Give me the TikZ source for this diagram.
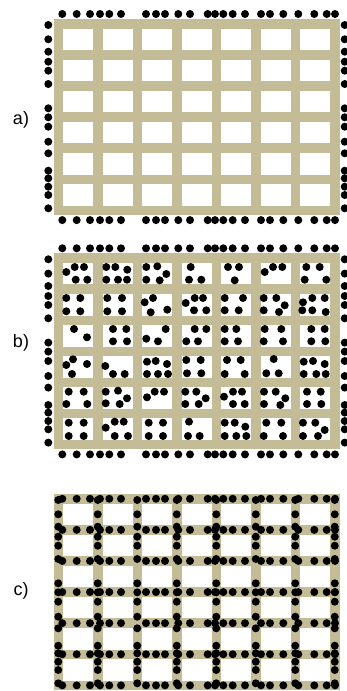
\documentclass[tikz,border=0pt]{standalone}
\usepackage{fontspec}
\setmainfont{Liberation Sans}
\definecolor{khaki}{RGB}{196,188,150}

\begin{document}
\begin{tikzpicture}[x=1pt, y=-1pt, every node/.style={font=\fontsize{18}{18}\selectfont},
	frame/.style={fill=khaki}, cell/.style={fill=white}, dot/.style={fill=black}]
	\useasboundingbox (0,0) rectangle (347,691);
	\clip (0,0) rectangle (347,691);
	% the three grids
	\foreach \t in {19,253.3,494} {
		\fill[frame] (53.5,\t) rectangle ++(286,196.1);
		\foreach \i in {0,...,6} \foreach \j in {0,...,5}
			\fill[cell] ({63+39.5*\i},{\t+9.5+31.1*\j}) rectangle ++(30,21.6);
	}
	% dots round the edge of a) and b)
	\foreach \t in {19,253.3} {
		\foreach \x in {62.3,76.7,90,100,109.3,121,146,156,165,178.3,190,207.7,215,223.3,232.7,245,261,270,283.3,298.3,314.3,326.7,335} {
			\fill[dot] (\x,\t-5) circle (4pt);
			\fill[dot] (\x,\t+201.1) circle (4pt);
		}
		\foreach \y in {6,20.3,32.7,42.7,51.7,65,89.3,98.3,107.7,122.7,134.3,151.7,159.3,167.7,176,189.3} {
			\fill[dot] (48.3,\t+\y) circle (4pt);
			\fill[dot] (344.7,\t+\y) circle (4pt);
		}
	}
	% dots in the cells of b)
	\foreach \x/\y in {66.3/272,74.7/267,84/267,75.7/279.7,87.3/279.7,
		106.3/267,115.3/267,127.3/269.7,106.3/279.7,118/279.7,127/279.7,
		146.3/267,157.3/266.3,166.3/274,146.3/279.7,159.7/280.3,
		190.7/267,189/279.7,201.3/279.7,
		228/267,239/267,234.7/280.3,
		264.7/272,273/267,282.3/267,
		306.3/267,319.7/267,304.7/279.7,326.3/279.7,
		66.3/298,80.3/298,66.3/311.3,80.3/311.3,
		107.3/298,122/298,107.3/311.3,122/311.3,
		144.7/302.3,153/298,150.7/312.3,167.3/309.7,
		185.7/303,194.7/298,203/298,194/310.3,206.3/310.3,
		224.7/298,243/298,224.7/310.3,238.7/310.3,
		263.7/298,276.3/298,284.7/305.3,263.7/310.3,279/312,
		303/302.3,312.3/298,324.7/298,302.3/310.3,312.3/310.3,325.7/312,
		74/329,87/337.3,
		113/329,126.3/329,113/341.3,127/341.3,
		165.7/329,146.3/338.7,158/341.3,
		194.7/329,206.3/329,186.3/341.3,198/341.3,
		224.7/329,236.3/329,224.7/341.3,238/341.3,
		264.7/329,281.3/329,263.7/341.3,283/341.3,
		311.3/329,324.7/329,311.3/341.3,325.3/341.3,
		66.3/365,73/359.3,87/364,72/374,
		105.3/366,113/374,124.7/374,
		147/361.7,155.7/361,167/364,147/374,158/374,168/374,
		186.3/360,200.7/360,187/373.3,201.3/373.3,
		227/360,240.7/360,224.7/374,244.7/374,
		273.7/359,266.3/373.3,278.7/373.3,
		303.7/361.7,313/361,324.7/364,303.7/374,316.3/374,325.7/374,
		68.7/391.7,83.7/391.7,66.3/404,87.3/404,
		105.7/391.7,118/390.7,127/398.3,105.7/403.3,119.7/404,
		147/397.3,154.7/391.7,164/391.7,
		185.3/391.7,196.3/391.7,205.7/398.3,185.3/404,198.7/404,
		224/396.7,233/391.7,242/391.7,233/404,244.7/404,
		264/391.7,275.7/391.7,285.3/398.3,264/404,280.3/405,
		307/391.7,320.7/391.7,307/404,321.3/404,
		68.7/422.7,83.7/422.7,68.7/436,83.7/436,
		105.7/427.7,114.7/421.7,123.7/421.7,114.7/436,128/436,
		148.7/422.7,163/422.7,148.7/436,163/436,
		189/421.7,188/436,199.7/436,
		224.7/422.7,234.7/422.7,245.3/426.7,224.7/436,236.3/436,246.3/436,
		266.3/422.7,281.3/422.7,263.7/436,283/436,
		303/422.7,315.3/422.7,324.7/430,303/436,318/436}
		\fill[dot] (\x,\y) circle (4pt);
	% dots on the lines of c)
	\foreach \j in {0,...,6}
		\foreach \x in {62.3,76.7,90,100,109.3,121,146,156,165,178.3,190,207.7,215,223.3,232.7,245,261,270,283.3,298.3,314.3,326.7,335}
			\fill[dot] (\x,{498.75+31.1*\j}) circle (4pt);
	\foreach \i in {0,...,7}
		\foreach \y in {6,20.3,32.7,42.7,51.7,65,89.3,98.3,107.7,122.7,134.3,151.7,159.3,167.7,176,189.3}
			\fill[dot] ({58.25+39.5*\i},494+\y) circle (4pt);
	\node (la) at (21,120) {a)};
	\node (lb) at (21,343) {b)};
	\node (lc) at (21,591) {c)};
\end{tikzpicture}
\end{document}
